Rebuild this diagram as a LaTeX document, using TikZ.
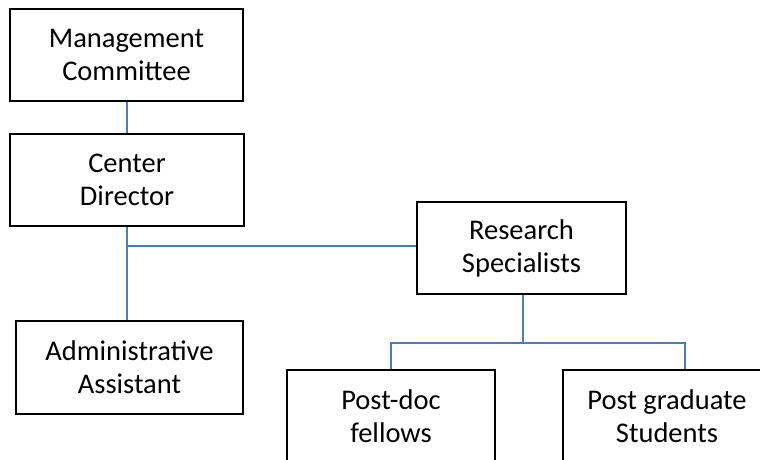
\documentclass[tikz,border=0pt]{standalone}
\usepackage{fontspec}
\setmainfont{Carlito}
\definecolor{linkblue}{RGB}{74,126,187}
\begin{document}
\begin{tikzpicture}[x=1pt,y=1pt,
  box/.style={draw=black, line width=1.6pt, fill=white, align=center, inner sep=0pt,
    font=\fontsize{28.5}{33}\selectfont},
  link/.style={draw=linkblue, line width=1.6pt}]
\useasboundingbox (0,0) rectangle (760,-460);
\clip (0,0) rectangle (760,-460);
\node[box, minimum width=233, minimum height=92] (mc) at (126.5,-55) {Management\\Committee};
\node[box, minimum width=234, minimum height=92] (cd) at (127,-180) {Center\\Director};
\node[box, minimum width=227, minimum height=93] (aa) at (129.5,-367.5) {Administrative\\Assistant};
\node[box, minimum width=209, minimum height=92] (rs) at (521.5,-248) {Research\\Specialists};
\node[box, minimum width=208, minimum height=92] (pd) at (391,-416) {Post-doc\\fellows};
\node[box, minimum width=208, minimum height=92] (pg) at (667,-416) {Post graduate\\Students};
\coordinate (j1) at (127,-246);
\coordinate (j2) at (523,-343);
\coordinate (pgtop) at (685,-343);
\draw[link] (127,0 |- mc.south) -- (127,0 |- cd.north);
\draw[link] (cd.south) -- (cd.south |- aa.north);
\draw[link] (j1) -- (j1 -| rs.west);
\draw[link] (j2 |- rs.south) -- (j2);
\draw[link] (pd.north) -- (pd.north |- j2) -- (pgtop) -- (pgtop |- pg.north);
\end{tikzpicture}
\end{document}
